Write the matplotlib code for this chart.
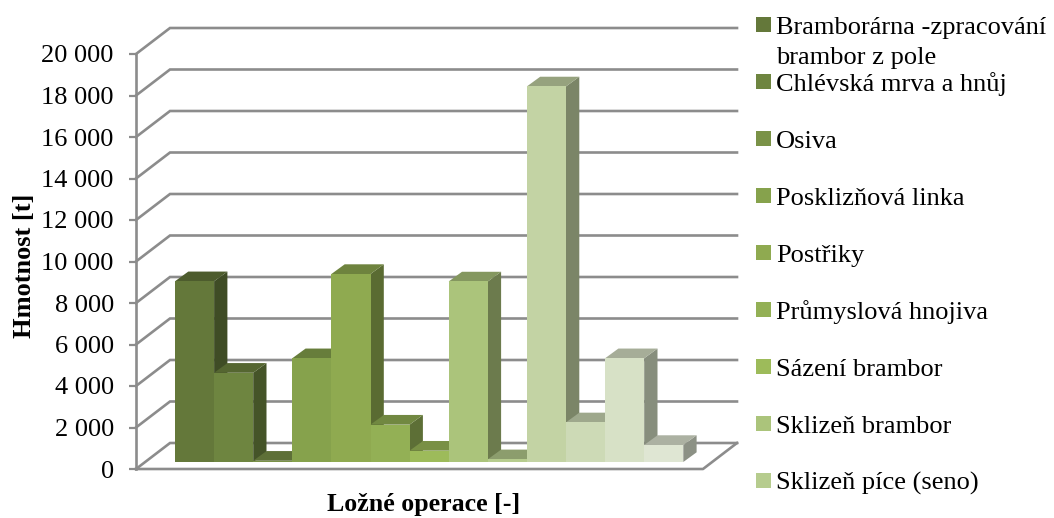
import matplotlib
matplotlib.use('Agg')
import matplotlib.pyplot as plt
from matplotlib.patches import Polygon, Rectangle
from matplotlib.ticker import FuncFormatter

W, H = 1054, 518

# tonnes per operation, left to right
values = [8710, 4300, 60, 5000, 9060, 1800, 545, 8700, 130, 18100, 1910, 5000, 820]
front_colors = ['#64783a', '#6e8540', '#7a9247', '#86a24c', '#8faa50', '#93b055', '#9dbb5a',
                '#abc47b', '#b6cc8e', '#c3d3a4', '#cddab6', '#d7e1c6', '#dfe6d3']
legend_labels = ['Bramborárna -zpracování\nbrambor z pole', 'Chlévská mrva a hnůj', 'Osiva',
                 'Posklizňová linka', 'Postřiky', 'Průmyslová hnojiva', 'Sázení brambor',
                 'Sklizeň brambor', 'Sklizeň píce (seno)']
y_ticks = [0, 2000, 4000, 6000, 8000, 10000, 12000, 14000, 16000, 18000, 20000]

plt.rcParams['font.family'] = ['Liberation Serif', 'DejaVu Serif']


def shade(color, k):
    r, g, b = matplotlib.colors.to_rgb(color)
    return (r * k, g * k, b * k)


# plot box in pixels
left, right, y0_px, y20_px = 136, 737, 469, 54
wall_dx, wall_dy = 34, 26
floor_right = 703
bar_px, bar_left = 39.1, 175
bar_lift_px = 7
depth_dx, depth_dy = 13.3, 9.7

px_per_unit = (y0_px - y20_px) / 20000
top_px = y0_px - (y0_px - y20_px) - wall_dy

fig = plt.figure(figsize=(W / 100, H / 100), dpi=100, facecolor='white')
ax = fig.add_axes([left / W, 1 - y0_px / H, (right - left) / W, (y0_px - top_px) / H])
ax.patch.set_visible(False)

x_min = (left - bar_left) / bar_px - 0.5
x_max = (right - bar_left) / bar_px - 0.5
ax.set_xlim(x_min, x_max)
ax.set_ylim(0, (y0_px - top_px) / px_per_unit)

wall_x = wall_dx / bar_px
wall_y = wall_dy / px_per_unit
grid = '#8c8c8c'

# back wall and slanted side wall lines
for v in y_ticks:
    ax.plot([x_min, x_min + wall_x, x_max], [v, v + wall_y, v + wall_y],
            color=grid, lw=1.9, zorder=1, clip_on=False, solid_joinstyle='miter')

# floor edges
floor_x = x_min + (floor_right - left) / bar_px
ax.plot([x_min, floor_x, x_max], [0, 0, wall_y], color=grid, lw=1.9, zorder=1, clip_on=False)

# bars, left to right so each front covers the previous side face
lift = bar_lift_px / px_per_unit
ddx = depth_dx / bar_px
ddy = depth_dy / px_per_unit
xs = list(range(len(values)))
bars = ax.bar(xs, values, width=1.0, bottom=lift, color=front_colors, linewidth=0)
for i, (rect, val, col) in enumerate(zip(bars, values, front_colors)):
    z = 3 + i * 3
    rect.set_zorder(z + 2)
    x1, x2 = i - 0.5, i + 0.5
    top = lift + val
    ax.add_patch(Polygon([(x2, lift), (x2 + ddx, lift + ddy), (x2 + ddx, top + ddy), (x2, top)],
                         closed=True, fc=shade(col, 0.63), lw=0, zorder=z))
    ax.add_patch(Polygon([(x1, top), (x1 + ddx, top + ddy), (x2 + ddx, top + ddy), (x2, top)],
                         closed=True, fc=shade(col, 0.77), lw=0, zorder=z + 1))

for sp in ['top', 'right', 'bottom']:
    ax.spines[sp].set_visible(False)
ax.spines['left'].set_bounds(0, 20000)
ax.spines['left'].set_color(grid)
ax.spines['left'].set_linewidth(1.9)
ax.set_xticks([])
ax.set_yticks(y_ticks)
ax.yaxis.set_major_formatter(FuncFormatter(lambda v, p: f'{int(v):,}'.replace(',', ' ')))
ax.tick_params(axis='y', length=5, width=1.6, color=grid, labelsize=19, pad=11, labelcolor='black')

fig.text(24 / W, 1 - 266 / H, 'Hmotnost [t]', rotation=90, ha='center', va='center',
         fontsize=19, weight='bold')
fig.text(424 / W, 1 - 504 / H, 'Ložné operace [-]', ha='center', va='center',
         fontsize=18.6, weight='bold')

# legend, one row per category that has a name
for i, (label, col) in enumerate(zip(legend_labels, front_colors)):
    y = 25 + i * 57
    fig.add_artist(Rectangle((756 / W, 1 - (y + 7) / H), 15 / W, 15 / H, fc=col, lw=0,
                             transform=fig.transFigure))
    first, _, second = label.partition('\n')
    fig.text(776 / W, 1 - (y + 9) / H, first, fontsize=19, va='baseline')
    if second:
        fig.text(776 / W, 1 - (y + 39) / H, second, fontsize=19, va='baseline')

fig.savefig('out.png', dpi=100, facecolor='white')
